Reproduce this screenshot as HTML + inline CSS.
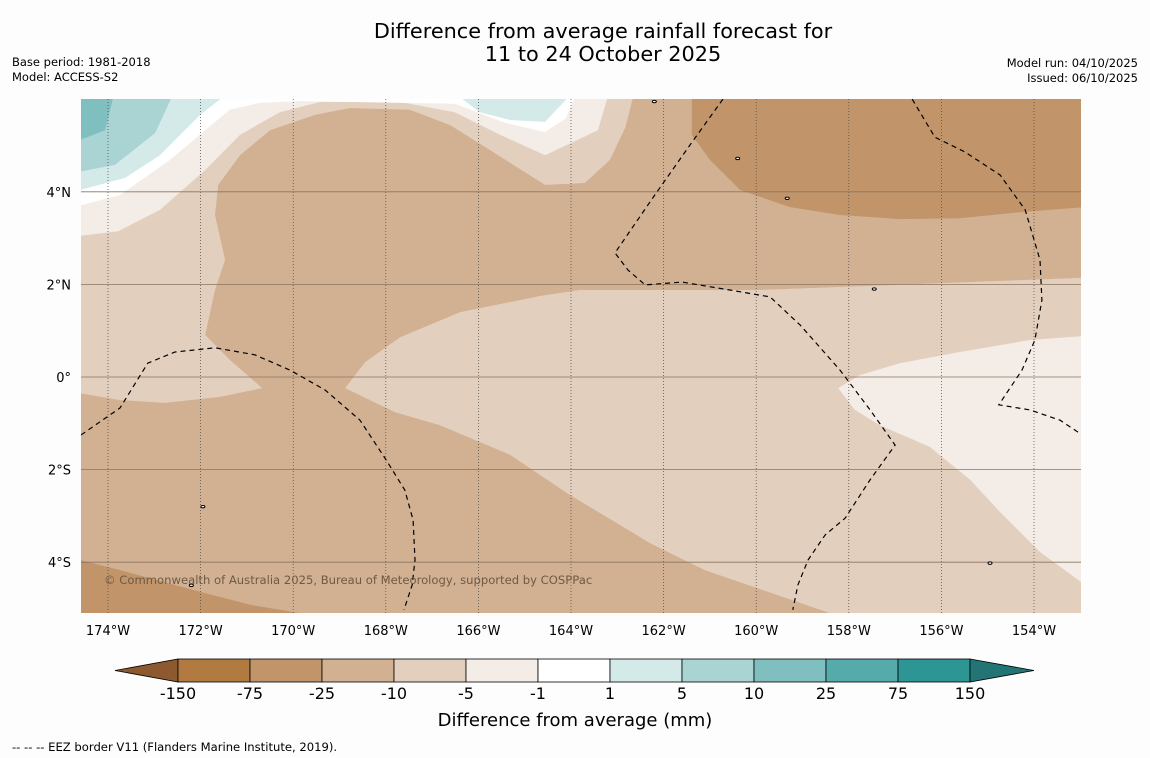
<!DOCTYPE html>
<html><head><meta charset="utf-8">
<style>
body{margin:0;background:#fdfdfd;font-family:"DejaVu Sans","Liberation Sans",sans-serif;}
svg{display:block;font-family:"DejaVu Sans","Liberation Sans",sans-serif;}
</style></head>
<body>
<svg id="chart" width="1150" height="758" viewBox="0 0 1150 758">
<rect width="1150" height="758" fill="#fdfdfd"/>
<text x="603" y="38" font-size="20.8" text-anchor="middle" fill="#000">Difference from average rainfall forecast for</text>
<text x="603" y="61" font-size="20.8" text-anchor="middle" fill="#000">11 to 24 October 2025</text>
<text x="12" y="66" font-size="11.5">Base period: 1981-2018</text>
<text x="12" y="81" font-size="11.5">Model: ACCESS-S2</text>
<text x="1138" y="67" font-size="11.5" text-anchor="end">Model run: 04/10/2025</text>
<text x="1138" y="82" font-size="11.5" text-anchor="end">Issued: 06/10/2025</text>
<defs><clipPath id="mapclip"><rect x="81" y="99" width="1000" height="514"/></clipPath></defs>
<g id="map" clip-path="url(#mapclip)"></g>
<g id="axes"></g>
<g id="cbar"></g>
<text x="575" y="726" font-size="18" text-anchor="middle">Difference from average (mm)</text>
<text x="12" y="751" font-size="11.6">--  --  -- EEZ border V11 (Flanders Marine Institute, 2019).</text>
</svg>
<script>
const lonTicks=[-174,-172,-170,-168,-166,-164,-162,-160,-158,-156,-154];
const latTicks=[4,2,0,-2,-4];
const cbLevels=["-150","-75","-25","-10","-5","-1","1","5","10","25","75","150"];
const cbColors=["#b07a40","#c1946a","#d2b193","#e3cfbe","#f4ece6","#ffffff","#d4eae9","#aad4d4","#80bfbf","#55aaaa","#2e9595"];
const cbLowColor="#8c5a2e", cbHighColor="#237575";
const regionMidLight=[[-168.88,-0.24],[-168.45,0.32],[-167.69,0.86],[-166.4,1.4],[-164.67,1.75],[-163.81,1.88],[-159.92,1.88],[-152,2.18],[-152,-5.5],[-158.41,-5.5],[-158.41,-5.1],[-161.11,-4.17],[-162.29,-3.59],[-164.02,-2.55],[-165.32,-1.68],[-166.83,-1.04],[-167.8,-0.76]];
const regionWestLight=[[-175,6.2],[-162.62,6.2],[-162.83,5.38],[-163.16,4.69],[-163.7,4.19],[-164.56,4.15],[-165.75,4.9],[-166.61,5.44],[-167.48,5.77],[-168.77,5.81],[-169.53,5.66],[-170.5,5.33],[-171.15,4.79],[-171.62,4.15],[-171.69,3.5],[-171.47,2.53],[-171.69,1.88],[-171.9,0.91],[-171.37,0.37],[-170.67,-0.24],[-171.58,-0.43],[-172.77,-0.56],[-173.74,-0.5],[-175,-0.28]];
const regionTopLightest=[[-175,6.2],[-163.16,6.2],[-163.42,5.33],[-164.56,4.79],[-165.53,5.23],[-166.51,5.72],[-167.69,5.94],[-169.42,5.94],[-170.29,5.72],[-171.15,5.23],[-171.9,4.47],[-172.88,3.61],[-173.78,3.15],[-175,3.0]];
const regionWhite=[[-175,6.2],[-163.85,6.2],[-164.11,5.59],[-164.56,5.29],[-165.43,5.49],[-166.51,5.9],[-169.85,5.96],[-170.72,5.92],[-171.37,5.77],[-171.9,5.33],[-172.66,4.69],[-173.74,3.93],[-175,3.6]];
const regionBlue1=[[-175,6.2],[-171.32,6.2],[-172.01,5.66],[-172.88,4.79],[-173.63,4.3],[-175,3.93]];
const regionBlue1b=[[-166.61,6.2],[-165.97,5.72],[-165.32,5.55],[-164.56,5.51],[-163.91,6.2]];
const regionBlue2=[[-175,6.2],[-172.55,6.2],[-172.98,5.27],[-173.85,4.58],[-175,4.36]];
const regionBlue3=[[-175,6.2],[-174,6.2],[-173.89,6.03],[-174.06,5.33],[-175,4.97]];
const regionNEDark=[[-161.39,6.2],[-152,6.2],[-152,3.74],[-154.3,3.56],[-155.6,3.43],[-156.89,3.41],[-158.19,3.5],[-159.27,3.67],[-160.35,4.04],[-161,4.69],[-161.39,5.23]];
const regionSWDark=[[-175,-3.85],[-173.74,-4.17],[-172.01,-4.64],[-170.93,-4.92],[-169.85,-5.1],[-169.6,-5.5],[-175,-5.5]];
const regionSELightest=[[-158.23,-0.24],[-157.76,0.04],[-156.89,0.3],[-155.6,0.54],[-154.09,0.8],[-152,0.95],[-152,-4.43],[-152.98,-4.43],[-153.87,-3.78],[-154.73,-2.92],[-155.38,-2.22],[-156.25,-1.51],[-157.33,-1.04],[-157.87,-0.71]];
const eezWest=[[-174.58,-1.25],[-173.74,-0.67],[-173.14,0.3],[-172.55,0.54],[-171.69,0.63],[-170.83,0.48],[-170.07,0.15],[-169.31,-0.28],[-168.56,-0.93],[-168.02,-1.75],[-167.59,-2.44],[-167.41,-3.09],[-167.37,-3.95],[-167.43,-4.49],[-167.61,-5.03]];
const eezMid=[[-160.72,6.0],[-161.43,5.01],[-162.19,3.93],[-163.05,2.68],[-162.77,2.31],[-162.4,1.99],[-161.6,2.05],[-160.57,1.88],[-159.7,1.73],[-159.05,1.12],[-158.19,0.15],[-157.54,-0.71],[-157.0,-1.47],[-157.54,-2.22],[-158.08,-3.05],[-158.51,-3.41],[-158.88,-3.95],[-159.1,-4.49],[-159.21,-5.03]];
const eezEast=[[-156.63,6.0],[-156.14,5.18],[-155.49,4.86],[-154.73,4.36],[-154.19,3.61],[-153.87,2.53],[-153.83,1.66],[-153.98,0.8],[-154.26,0.15],[-154.76,-0.6],[-154.09,-0.71],[-153.44,-0.93],[-153.05,-1.19]];
const islands=[[-159.33,3.86],[-157.45,1.9],[-171.95,-2.8],[-172.2,-4.5],[-154.95,-4.02],[-160.4,4.72],[-162.2,5.95]];

const NS="http://www.w3.org/2000/svg";
const PX=46.3;
function xS(lon){return 108+(lon+174)*PX;}
function yS(lat){return 377-lat*PX;}
function mk(tag,attrs,parent){const e=document.createElementNS(NS,tag);for(const k in attrs)e.setAttribute(k,attrs[k]);parent.appendChild(e);return e;}
function pts(arr){return arr.map(p=>xS(p[0]).toFixed(1)+","+yS(p[1]).toFixed(1)).join(" ");}
const map=document.getElementById("map");
const bg=mk("rect",{x:81,y:99,width:1000,height:514,fill:"#d2b193"},map);


const regions=[[regionMidLight,"#e3cfbe","region-mid-light"],[regionWestLight,"#e3cfbe","region-west-light"],[regionTopLightest,"#f4ece6","region-top-lightest"],[regionWhite,"#ffffff","region-near-normal"],[regionBlue1,"#d4eae9","region-wet-1-5"],[regionBlue1b,"#d4eae9","region-wet-1-5-top"],[regionBlue2,"#aad4d4","region-wet-5-10"],[regionBlue3,"#80bfbf","region-wet-10-25"],[regionNEDark,"#c1946a","region-ne-dry"],[regionSWDark,"#c1946a","region-sw-dry"],[regionSELightest,"#f4ece6","region-se-lightest"]];
regions.forEach(r=>{const p=mk("polygon",{points:pts(r[0]),fill:r[1]},map);

});
lonTicks.forEach(l=>{const g=mk("line",{x1:xS(l),x2:xS(l),y1:99,y2:613,stroke:"#444","stroke-width":0.7,"stroke-dasharray":"1,2"},map);

});
latTicks.forEach(l=>{const g=mk("line",{x1:81,x2:1081,y1:yS(l),y2:yS(l),stroke:"#8a7560","stroke-width":0.8},map);

});
[[eezWest,"eez-border-west"],[eezMid,"eez-border-mid"],[eezEast,"eez-border-east"]].forEach(e=>{const l=mk("polyline",{points:pts(e[0]),fill:"none",stroke:"#000","stroke-width":1.2,"stroke-dasharray":"5,4"},map);

});
islands.forEach(i=>{const c=mk("ellipse",{cx:xS(i[0]),cy:yS(i[1]),rx:2,ry:1.2,fill:"#fff",stroke:"#000","stroke-width":1},map);

});
const cp=mk("text",{x:104,y:584,"font-size":11.6,fill:"#6e5a45"},map);
cp.textContent="© Commonwealth of Australia 2025, Bureau of Meteorology, supported by COSPPac";


const ax=document.getElementById("axes");
lonTicks.forEach(l=>{const t=mk("text",{x:xS(l),y:635,"font-size":13,"text-anchor":"middle"},ax);t.textContent=Math.abs(l)+"°W";

});
latTicks.forEach(l=>{const t=mk("text",{x:71,y:yS(l)+5,"font-size":13,"text-anchor":"end"},ax);t.textContent=l===0?"0°":Math.abs(l)+"°"+(l>0?"N":"S");

});
const cb=document.getElementById("cbar");
const cx0=178,cw=72,cy=659,ch=23;
const lo=mk("polygon",{points:`115,${cy+ch/2} ${cx0},${cy} ${cx0},${cy+ch}`,fill:cbLowColor,stroke:"#000","stroke-width":0.8},cb);


cbColors.forEach((c,i)=>{const r=mk("rect",{x:cx0+i*cw,y:cy,width:cw,height:ch,fill:c,stroke:"#000","stroke-width":0.8},cb);

});
const hx=cx0+cbColors.length*cw;
const hi=mk("polygon",{points:`${hx},${cy} ${hx+64},${cy+ch/2} ${hx},${cy+ch}`,fill:cbHighColor,stroke:"#000","stroke-width":0.8},cb);


cbLevels.forEach((s,i)=>{const t=mk("text",{x:cx0+i*cw,y:699,"font-size":16,"text-anchor":"middle"},cb);t.textContent=s;

});
</script>
</body></html>
